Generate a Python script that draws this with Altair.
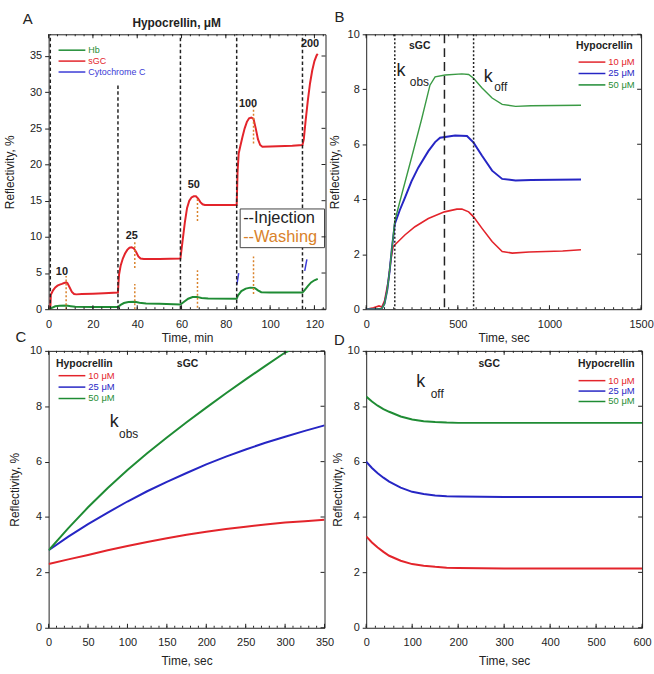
import altair as alt
import pandas as pd

FONT = "Liberation Sans"
INK = "#222222"
RED = "#e3242b"
BLUE = "#2626c4"
GREEN = "#1f8c34"
ORANGE = "#d9822b"

# ---------------- Panel A: staircase titration (time in min) ----------------
A_SGC_T = [0, 0.75, 1.0, 2, 3, 4, 5, 6, 7, 8, 8.5, 9.5, 10.5, 11.5, 12.5, 15, 20, 25, 31.3,
           31.5, 31.8, 32.5, 33.5, 34.5, 35.5, 36.5, 37.5, 38.5, 39.5, 40.5, 41.5, 43, 50, 59.5,
           60.5, 61.5, 62.5, 63.5, 64.5, 65.5, 66.5, 67.5, 68.5, 69.5, 70.5, 75, 84.9,
           85.3, 85.8, 86.5, 87.5, 88.5, 89.5, 90.5, 91.5, 92.5, 93.5, 94.5, 95.5, 96.5, 100, 110, 114.6,
           115.2, 116, 117, 118, 119, 120, 121, 121.5]
A_SGC_R = [0, 0.05, 2.0, 2.6, 3.0, 3.25, 3.4, 3.5, 3.62, 3.7, 3.6, 3.0, 2.4, 2.1, 2.05, 2.1, 2.15, 2.2, 2.3,
           3.5, 4.8, 6.0, 7.0, 7.7, 8.2, 8.5, 8.55, 8.4, 7.9, 7.3, 7.0, 6.95, 6.95, 7.0,
           9.5, 12.0, 14.0, 15.0, 15.45, 15.6, 15.6, 15.3, 14.8, 14.5, 14.4, 14.4, 14.4,
           19.0, 21.5, 22.5, 23.8, 25.0, 25.9, 26.4, 26.5, 26.3, 25.0, 23.5, 22.7, 22.45, 22.5, 22.6, 22.7,
           23.5, 26.0, 28.8, 31.2, 33.0, 34.3, 35.1, 35.3]
A_HB_T = [0, 0.75, 1.5, 3, 5, 8, 10, 12, 20, 31.3, 32.5, 34, 36, 39, 41, 44, 50, 59.5,
          61, 63, 65, 67, 69, 72, 84.9, 85.5, 87, 89, 91, 93, 94.5, 96, 100, 114.6,
          115.5, 117, 118.5, 120, 121.5]
A_HB_R = [0, 0.02, 0.2, 0.4, 0.48, 0.5, 0.42, 0.35, 0.3, 0.3, 0.6, 0.85, 1.0, 1.02, 0.9, 0.8, 0.75, 0.65,
          1.0, 1.45, 1.68, 1.7, 1.55, 1.48, 1.45, 1.9, 2.5, 2.85, 2.98, 2.95, 2.6, 2.35, 2.3, 2.3,
          2.6, 3.2, 3.7, 4.0, 4.2]
A_CYT_T = [85.0, 85.8, 115.6, 116.6]
A_CYT_R = [3.4, 5.0, 5.3, 6.9]
A_CYT_SEG = [1, 1, 2, 2]

INJ_T = [0.75, 31.3, 59.5, 84.9, 114.6]
INJ_TOP = [38, 31.1, 38, 38, 38]
WASH_T = [7.9, 38.9, 38.9, 67.2, 67.2, 92.5, 92.5]
WASH_HI = [4.6, 9.5, 3.5, 15.3, 5.4, 28.1, 7.3]
WASH_LO = [0, 5.7, 0, 12.2, 0.2, 22.9, 2.1]
CONC = ["10", "25", "50", "100", "200"]
CONC_T = [6.0, 37.5, 65.5, 90.0, 118.0]
CONC_R = [5.2, 10.1, 17.2, 28.4, 36.6]
A_LEGEND = ["Hb", "sGC", "Cytochrome C"]
A_LEGEND_COLORS = [GREEN, RED, "#3b3bd6"]

# ---------------- Panel B: sGC sensorgrams (time in s) ----------------
B_T_GREEN = [0, 50, 85, 100, 115, 128, 140, 156, 183, 247, 302, 348, 376, 431, 522, 559, 586,
             632, 687, 742, 815, 900, 1172]
B_GREEN = [0, 0, 0.02, 0.2, 0.7, 1.4, 2.2, 3.2, 3.9, 5.5, 6.9, 8.15, 8.45, 8.52, 8.56, 8.54, 8.4,
           8.05, 7.68, 7.45, 7.38, 7.4, 7.42]
B_T_BLUE = [0, 50, 85, 100, 115, 128, 140, 156, 183, 211, 247, 284, 339, 376, 403, 485, 550, 586,
            632, 687, 742, 815, 900, 1172]
B_BLUE = [0, 0, 0.02, 0.2, 0.7, 1.4, 2.2, 3.1, 3.6, 4.05, 4.65, 5.15, 5.75, 6.08, 6.24, 6.32, 6.3, 6.06,
          5.58, 5.04, 4.74, 4.68, 4.7, 4.72]
B_T_RED = [0, 40, 70, 85, 100, 120, 135, 147, 211, 266, 339, 427, 495, 522, 559, 586, 632, 687,
           742, 797, 889, 1072, 1172]
B_RED = [0, 0.05, 0.12, 0.08, 0.3, 1.0, 1.8, 2.28, 2.7, 3.0, 3.3, 3.54, 3.64, 3.64, 3.54, 3.36, 2.94, 2.46,
         2.1, 2.04, 2.08, 2.12, 2.16]
B_DOTTED_T = [156, 586]
B_DASHED_T = [427]

# ---------------- Panel C: association phase ----------------
C_T = [0, 25, 50, 75, 100, 125, 150, 175, 200, 225, 250, 275, 300, 325, 350]
C_RED = [2.3, 2.47, 2.63, 2.8, 2.95, 3.1, 3.23, 3.36, 3.47, 3.57, 3.65, 3.73, 3.8, 3.85, 3.9]
C_BLUE = [2.8, 3.29, 3.74, 4.16, 4.56, 4.93, 5.27, 5.59, 5.9, 6.18, 6.44, 6.68, 6.9, 7.11, 7.31]
C_T_GREEN = [0, 25, 50, 75, 100, 125, 150, 175, 200, 225, 250, 275, 300, 305]
C_GREEN = [2.8, 3.6, 4.35, 5.05, 5.7, 6.3, 6.87, 7.42, 7.95, 8.47, 8.97, 9.46, 9.94, 10.0]

# ---------------- Panel D: dissociation phase ----------------
D_T = [0, 12.5, 25, 37.5, 50, 75, 100, 125, 150, 175, 200, 250, 300, 400, 500, 600]
D_GREEN = [8.35, 8.17, 8.02, 7.9, 7.8, 7.63, 7.52, 7.46, 7.43, 7.41, 7.4, 7.4, 7.4, 7.4, 7.4, 7.4]
D_BLUE = [6.0, 5.77, 5.58, 5.42, 5.28, 5.06, 4.91, 4.83, 4.78, 4.75, 4.74, 4.73, 4.72, 4.72, 4.72, 4.72]
D_RED = [3.3, 3.08, 2.9, 2.74, 2.6, 2.42, 2.3, 2.24, 2.2, 2.17, 2.16, 2.15, 2.14, 2.14, 2.14, 2.14]

CONC_LEGEND = ["10 \u03bcM", "25 \u03bcM", "50 \u03bcM"]
CONC_COLORS = [RED, BLUE, GREEN]


def note(text, x, y, size=11, bold=False, color=INK, align="center", baseline="middle"):
    return alt.Chart(pd.DataFrame({"s": [text]})).mark_text(
        font=FONT, fontSize=size, fontWeight="bold" if bold else "normal",
        color=color, align=align, baseline=baseline,
    ).encode(x=alt.value(x), y=alt.value(y), text="s:N")


class Panel:
    """One framed plot: shared scales, one axis spec reused by every layer."""

    def __init__(self, w, h, xdom, ydom, xmajor, xminor, ymajor, xtitle, ytitle,
                 xtitle_pad, ytitle_pad):
        self.w, self.h = w, h
        self.xs = alt.Scale(domain=xdom, nice=False, zero=False)
        self.ys = alt.Scale(domain=ydom, nice=False, zero=False)
        self.xmajor, self.xminor, self.ymajor = xmajor, xminor, ymajor
        self.xaxis = alt.Axis(values=xmajor, tickSize=0, labelPadding=9, title=xtitle,
                              titlePadding=xtitle_pad, format="d",
                              labelFlush=False, labelOverlap=False)
        self.yaxis = alt.Axis(values=ymajor, tickSize=4, tickColor=INK, labelPadding=3,
                              title=ytitle, titlePadding=ytitle_pad, format="d",
                              labelFlush=False, labelOverlap=False)

    def X(self, f):
        return alt.X(f, type="quantitative", scale=self.xs, axis=self.xaxis)

    def Y(self, f):
        return alt.Y(f, type="quantitative", scale=self.ys, axis=self.yaxis)

    def curve(self, t, r, color, width=2.0):
        df = pd.DataFrame({"t": t, "r": r})
        return alt.Chart(df).mark_line(color=color, strokeWidth=width, clip=True).encode(
            x=self.X("t:Q"), y=self.Y("r:Q"))

    def ticks(self):
        w, h = self.w, self.h
        out = []
        for vals, ln in ((self.xmajor, 4), (self.xminor, 2)):
            df = pd.DataFrame({"t": vals})
            out.append(alt.Chart(df).mark_rule(color=INK, strokeWidth=1).encode(
                x=self.X("t:Q"), y=alt.value(h), y2=alt.value(h - ln)))
            out.append(alt.Chart(df).mark_rule(color=INK, strokeWidth=1).encode(
                x=self.X("t:Q"), y=alt.value(0), y2=alt.value(ln)))
        dfy = pd.DataFrame({"v": self.ymajor})
        out.append(alt.Chart(dfy).mark_rule(color=INK, strokeWidth=1).encode(
            y=self.Y("v:Q"), x=alt.value(w), x2=alt.value(w - 4)))
        return out

    def legend(self, names, colors, x0, y0, step, line_len=27, size=9.5):
        df = pd.DataFrame({"name": names, "col": colors, "i": list(range(len(names)))})
        base = alt.Chart(df).transform_calculate(ly=f"{y0} + {step} * datum.i")
        lines = base.mark_rule(strokeWidth=1.5).encode(
            x=alt.value(x0), x2=alt.value(x0 + line_len),
            y=alt.Y("ly:Q", scale=None),
            color=alt.Color("col:N", scale=None))
        labels = base.mark_text(font=FONT, fontSize=size, align="left", baseline="middle").encode(
            x=alt.value(x0 + line_len + 3),
            y=alt.Y("ly:Q", scale=None),
            text="name:N",
            color=alt.Color("col:N", scale=None))
        return [lines, labels]


# ---------- A ----------
pa = Panel(279, 277, [0, 125], [0, 38], list(range(0, 121, 20)), list(range(0, 125, 4)),
           list(range(0, 36, 5)), "Time, min", "Reflectivity, %", 4, 13)
inj = pd.DataFrame({"t": INJ_T, "top": INJ_TOP, "bot": [0] * len(INJ_T)})
wash = pd.DataFrame({"t": WASH_T, "hi": WASH_HI, "lo": WASH_LO})
conc = pd.DataFrame({"lab": CONC, "t": CONC_T, "r": CONC_R})
cyt = pd.DataFrame({"t": A_CYT_T, "r": A_CYT_R, "seg": A_CYT_SEG})
layers_a = [
    pa.curve(A_SGC_T, A_SGC_R, RED, 2.0),
    pa.curve(A_HB_T, A_HB_R, GREEN, 2.0),
    alt.Chart(cyt).mark_line(color="#3b3bd6", strokeWidth=1.5).encode(
        x=pa.X("t:Q"), y=pa.Y("r:Q"), detail="seg:N"),
    alt.Chart(inj).mark_rule(color=INK, strokeWidth=1.5, strokeDash=[3.5, 2.5]).encode(
        x=pa.X("t:Q"), y=pa.Y("bot:Q"), y2="top:Q"),
    alt.Chart(wash).mark_rule(color=ORANGE, strokeWidth=1.5, strokeDash=[2, 2]).encode(
        x=pa.X("t:Q"), y=pa.Y("lo:Q"), y2="hi:Q"),
    alt.Chart(conc).mark_text(font=FONT, fontSize=11, fontWeight="bold", color=INK).encode(
        x=pa.X("t:Q"), y=pa.Y("r:Q"), text="lab:N"),
    alt.Chart(pd.DataFrame({"k": [1]})).mark_rect(fill="white", stroke="#444", strokeWidth=1).encode(
        x=alt.value(193), x2=alt.value(278), y=alt.value(176), y2=alt.value(215)),
    note("--Injection", 196, 185, 16.5, color=INK, align="left"),
    note("--Washing", 196, 204, 16.5, color=ORANGE, align="left"),
    note("Hypocrellin, \u03bcM", 129, -11, 12, bold=True),
    note("A", -21, -15, 15),
] + pa.legend(A_LEGEND, A_LEGEND_COLORS, 10, 16, 11, size=9) + pa.ticks()
chart_a = alt.layer(*layers_a).properties(width=pa.w, height=pa.h)

# ---------- B ----------
pb = Panel(277, 277, [0, 1500], [0, 10], [0, 500, 1000, 1500], list(range(0, 1501, 50)),
           list(range(0, 11, 2)), "Time, sec", "Reflectivity, %", 4, 6)
layers_b = [
    pb.curve(B_T_RED, B_RED, RED, 1.6),
    pb.curve(B_T_BLUE, B_BLUE, BLUE, 2.0),
    pb.curve(B_T_GREEN, B_GREEN, "#3a9a44", 1.4),
    alt.Chart(pd.DataFrame({"t": B_DOTTED_T})).mark_rule(
        color=INK, strokeWidth=1.5, strokeDash=[2, 2]).encode(x=pb.X("t:Q")),
    alt.Chart(pd.DataFrame({"t": B_DASHED_T})).mark_rule(
        color=INK, strokeWidth=1.5, strokeDash=[9, 5]).encode(x=pb.X("t:Q")),
    note("sGC", 54, 12, 10.5, bold=True),
    note("k", 35, 37, 18),
    note("obs", 44, 48, 12, align="left"),
    note("k", 123, 43, 18),
    note("off", 129, 53, 12, align="left"),
    note("Hypocrellin", 240, 12, 10.5, bold=True),
    note("B", -27, -17, 15),
] + pb.legend(CONC_LEGEND, CONC_COLORS, 214, 28, 11.5) + pb.ticks()
chart_b = alt.layer(*layers_b).properties(width=pb.w, height=pb.h)

# ---------- C ----------
pc = Panel(278, 279, [0, 350], [0, 10], list(range(0, 351, 50)), list(range(0, 351, 10)),
           list(range(0, 11, 2)), "Time, sec", "Reflectivity, %", 8, 8)
layers_c = [
    pc.curve(C_T, C_RED, RED, 2.0),
    pc.curve(C_T, C_BLUE, BLUE, 2.0),
    pc.curve(C_T_GREEN, C_GREEN, GREEN, 2.0),
    note("Hypocrellin", 36, 13, 10.5, bold=True),
    note("sGC", 140, 13, 10.5, bold=True),
    note("k", 66, 72, 18),
    note("obs", 71, 84, 12, align="left"),
    note("C", -28, -14, 15),
] + pc.legend(CONC_LEGEND, CONC_COLORS, 10, 25, 11.5) + pc.ticks()
chart_c = alt.layer(*layers_c).properties(width=pc.w, height=pc.h)

# ---------- D ----------
pdn = Panel(278, 279, [0, 600], [0, 10], list(range(0, 601, 100)), list(range(0, 601, 20)),
            list(range(0, 11, 2)), "Time, sec", "Reflectivity, %", 8, 3)
layers_d = [
    pdn.curve(D_T, D_RED, RED, 2.0),
    pdn.curve(D_T, D_BLUE, BLUE, 2.0),
    pdn.curve(D_T, D_GREEN, GREEN, 2.0),
    note("sGC", 124, 13, 10.5, bold=True),
    note("Hypocrellin", 242, 13, 10.5, bold=True),
    note("k", 55, 31, 18),
    note("off", 65, 43, 12, align="left"),
    note("D", -27, -11, 15),
] + pdn.legend(CONC_LEGEND, CONC_COLORS, 214, 30, 10.5) + pdn.ticks()
chart_d = alt.layer(*layers_d).properties(width=pdn.w, height=pdn.h)

chart = alt.concat(
    chart_a, chart_b, chart_c, chart_d,
    columns=2, spacing={"row": 42, "column": 41}, bounds="flush",
).properties(
    padding={"left": 3, "top": 7, "right": 0, "bottom": 0}
).configure_view(stroke="#222", strokeWidth=1).configure_axis(
    labelFont=FONT, titleFont=FONT, labelColor=INK, titleColor=INK,
    labelFontSize=11, titleFontSize=12, titleFontWeight="normal",
    grid=False, domain=False,
).configure_text(font=FONT)

chart.save("out.html", embed_options={"renderer": "svg", "actions": False})
